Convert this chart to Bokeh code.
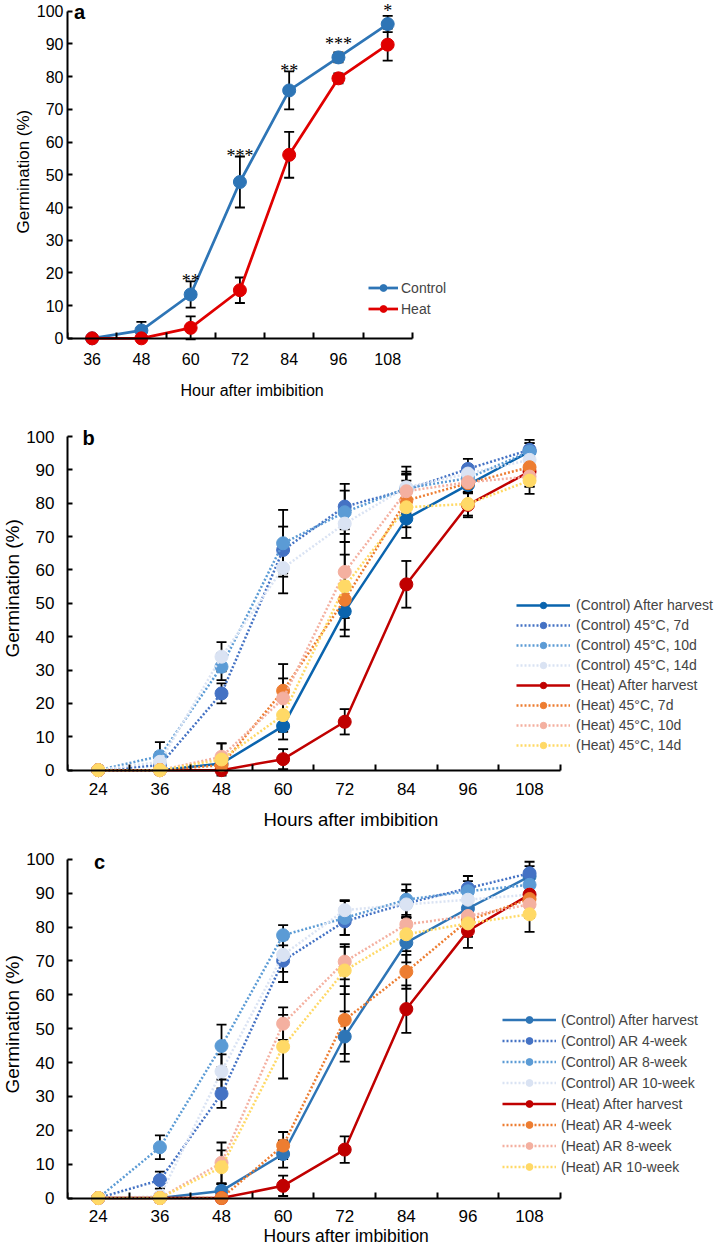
from bokeh.plotting import figure
from bokeh.models import (ColumnDataSource, Whisker, TeeHead, Legend, LegendItem,
                          Label, LabelSet, FixedTicker, Range1d, LinearAxis, Title)
from bokeh.layouts import column
from bokeh.embed import file_html
from bokeh.resources import INLINE

# ---------------- data ----------------
hours_a = [36, 48, 60, 72, 84, 96, 108]
control_a = [0, 2.4, 13.4, 47.8, 75.8, 85.9, 96.1]
control_a_err = [0, 2.6, 4.0, 7.8, 5.8, 1.5, 2.5]
heat_a = [0, 0, 3.2, 14.7, 56.1, 79.5, 89.8]
heat_a_err = [0, 0, 3.5, 3.9, 7.0, 1.5, 4.9]
stars_a = ["", "", "**", "***", "**", "***", "*"]
names_a = ["Control", "Heat"]

hours_bc = [24, 36, 48, 60, 72, 84, 96, 108]

names_b = ["(Control) After harvest", "(Control) 45°C, 7d", "(Control) 45°C, 10d",
           "(Control) 45°C, 14d", "(Heat) After harvest", "(Heat) 45°C, 7d",
           "(Heat) 45°C, 10d", "(Heat) 45°C, 14d"]
b_ctrl_ah = [0, 0, 2.0, 13.2, 47.6, 75.4, 85.5, 95.5]
b_ctrl_7d = [0, 1.5, 23.0, 66.0, 79.0, 84.0, 90.3, 96.0]
b_ctrl_10d = [0, 4.2, 31.0, 68.0, 77.3, 84.5, 87.5, 95.5]
b_ctrl_14d = [0, 2.5, 34.0, 60.6, 73.9, 84.8, 88.9, 93.0]
b_heat_ah = [0, 0, 0, 3.3, 14.5, 55.7, 79.5, 89.5]
b_heat_7d = [0, 0, 1.5, 23.8, 51.1, 80.8, 86.0, 90.8]
b_heat_10d = [0, 0, 4.0, 21.5, 59.4, 83.6, 86.3, 88.0]
b_heat_14d = [0, 0, 3.2, 16.5, 55.1, 78.8, 79.8, 86.8]
b_ctrl_ah_err = [0, 0, 2.6, 4.0, 7.5, 5.8, 2.0, 2.5]
b_ctrl_7d_err = [0, 2.5, 3.0, 7.0, 6.8, 7.0, 3.0, 3.0]
b_ctrl_10d_err = [0, 4.2, 4.0, 10.0, 6.5, 5.0, 2.5, 2.5]
b_ctrl_14d_err = [0, 3.0, 4.4, 7.6, 5.5, 4.0, 2.5, 3.0]
b_heat_ah_err = [0, 0, 0, 3.0, 3.8, 7.0, 3.7, 4.5]
b_heat_7d_err = [0, 0, 2.0, 8.0, 9.0, 6.0, 3.0, 3.0]
b_heat_10d_err = [0, 0, 4.0, 6.0, 9.0, 5.0, 3.0, 3.0]
b_heat_14d_err = [0, 0, 4.8, 5.0, 9.5, 6.0, 3.5, 4.0]

names_c = ["(Control) After harvest", "(Control) AR 4-week", "(Control) AR 8-week",
           "(Control) AR 10-week", "(Heat) After harvest", "(Heat) AR 4-week",
           "(Heat) AR 8-week", "(Heat) AR 10-week"]
c_ctrl_ah = [0, 0, 2.1, 13.0, 47.7, 75.4, 85.5, 95.0]
c_ctrl_4w = [0, 5.3, 30.8, 70.1, 81.7, 87.0, 91.5, 95.9]
c_ctrl_8w = [0, 15.0, 44.9, 77.6, 82.7, 88.1, 90.6, 92.5]
c_ctrl_10w = [0, 0.5, 37.4, 71.8, 85.0, 86.7, 88.1, 89.6]
c_heat_ah = [0, 0, 0, 3.6, 14.3, 55.8, 78.9, 89.6]
c_heat_4w = [0, 0, 0, 15.5, 52.6, 66.8, 82.0, 88.3]
c_heat_8w = [0, 0, 10.4, 51.5, 69.8, 80.8, 83.3, 86.7]
c_heat_10w = [0, 0, 9.1, 44.7, 67.2, 77.9, 81.1, 83.8]
c_ctrl_ah_err = [0, 0, 2.0, 4.0, 7.4, 5.8, 2.5, 3.0]
c_ctrl_4w_err = [0, 2.5, 4.2, 6.3, 4.0, 4.0, 3.6, 3.4]
c_ctrl_8w_err = [0, 3.5, 6.3, 3.0, 5.0, 4.5, 3.0, 3.0]
c_ctrl_10w_err = [0, 0, 5.0, 5.0, 3.0, 4.0, 3.0, 3.0]
c_heat_ah_err = [0, 0, 0, 3.0, 3.9, 7.0, 5.0, 4.0]
c_heat_4w_err = [0, 0, 1.0, 4.0, 10.0, 5.0, 4.0, 4.0]
c_heat_8w_err = [0, 0, 6.0, 4.8, 5.2, 5.0, 4.0, 4.0]
c_heat_10w_err = [0, 0, 5.0, 9.4, 7.0, 5.0, 4.0, 5.2]

# ---------------- styles ----------------
colors_a = ["#2E75B6", "#E00000"]
colors_b = ["#0A64AE", "#4472C4", "#5B9BD5", "#DAE3F3", "#C00000", "#ED7D31", "#F4B0A0", "#FFD966"]
colors_c = ["#2E75B6", "#4472C4", "#5B9BD5", "#DAE3F3", "#C00000", "#ED7D31", "#F4B0A0", "#FFD966"]
dashes = ["solid", "2 2", "2 2", "2 2", "solid", "2 2", "2 2", "2 2"]
SANS = "Liberation Sans, Arial"


def make_fig(x0, x1, y1, fw, fh, bl, bb, hours, tick_size, y_stand, x_stand):
    p = figure(frame_width=fw, frame_height=fh, x_range=Range1d(x0, x1),
               y_range=Range1d(-2.5, y1), x_axis_location=None,
               output_backend="svg", toolbar_location=None,
               min_border_left=bl, min_border_right=0, min_border_top=0, min_border_bottom=bb)
    p.outline_line_color = None
    p.grid.visible = False
    ya = p.yaxis[0]
    ya.bounds = (0, 100)
    ya.ticker = FixedTicker(ticks=list(range(0, 101, 10)))
    ya.axis_line_color = "black"
    ya.axis_line_width = 2
    ya.major_tick_line_color = "black"
    ya.major_tick_line_width = 2
    ya.major_tick_in = 5
    ya.major_tick_out = 0
    ya.minor_tick_in = 0
    ya.minor_tick_out = 0
    ya.major_label_standoff = y_stand
    ya.major_label_text_font = SANS
    ya.major_label_text_font_size = tick_size
    ya.major_label_text_color = "black"
    xlo = hours[0] - 6
    xhi = hours[-1] + 6
    lab_ax = LinearAxis(ticker=FixedTicker(ticks=hours), axis_line_color=None,
                        major_tick_line_color=None, minor_tick_line_color=None,
                        major_tick_in=0, major_tick_out=0, minor_tick_in=0, minor_tick_out=0,
                        major_label_standoff=x_stand, major_label_text_font=SANS,
                        major_label_text_font_size=tick_size, major_label_text_color="black")
    line_ax = LinearAxis(ticker=FixedTicker(ticks=[], minor_ticks=[h - 6 for h in hours] + [xhi]),
                         fixed_location=0, bounds=(xlo, xhi), axis_line_color="black",
                         axis_line_width=2, major_tick_in=0, major_tick_out=0,
                         minor_tick_in=6, minor_tick_out=0, minor_tick_line_color="black",
                         minor_tick_line_width=2, major_label_text_font_size="1px",
                         major_label_standoff=0)
    p.add_layout(lab_ax, "below")
    p.add_layout(line_ax, "below")
    return p


def add_series(p, x, y, err, color, dash, lw, size):
    ex = [xi for xi, e in zip(x, err) if e > 0]
    lo = [yi - e for yi, e in zip(y, err) if e > 0]
    hi = [yi + e for yi, e in zip(y, err) if e > 0]
    esrc = ColumnDataSource(dict(x=ex, lo=lo, hi=hi))
    w = Whisker(source=esrc, base="x", lower="lo", upper="hi", dimension="height",
                line_color="black", line_width=1.8,
                upper_head=TeeHead(size=10, line_color="black", line_width=1.8),
                lower_head=TeeHead(size=10, line_color="black", line_width=1.8),
                level="underlay")
    p.add_layout(w)
    src = ColumnDataSource(dict(x=x, y=y))
    lr = p.line("x", "y", source=src, line_color=color, line_width=lw, line_dash=dash)
    sr = p.scatter("x", "y", source=src, size=size, fill_color=color, line_color=color)
    return lr, sr


def add_titles(p, letter, lx, ly, lbase, xt, xt_off, xt_stand, xsize, yt_off, ysize):
    p.add_layout(Label(x=lx, y=ly, x_units="screen", y_units="screen", text=letter,
                       text_font=SANS, text_font_style="bold", text_font_size="20px",
                       text_align="center", text_baseline=lbase, text_color="black"))
    p.add_layout(Title(text=xt, align="left", offset=xt_off, standoff=xt_stand,
                       vertical_align="middle", text_font=SANS, text_font_size=xsize,
                       text_font_style="normal", text_color="black"), "below")
    p.add_layout(Title(text="Germination (%)", align="left", offset=yt_off, standoff=0,
                       vertical_align="middle", text_font=SANS, text_font_size=ysize,
                       text_font_style="normal", text_color="black"), "left")


def make_legend(names, rends, loc, gw, gh, stand, size):
    return Legend(items=[LegendItem(label=n, renderers=list(r)) for n, r in zip(names, rends)],
                  location=loc, glyph_width=gw, glyph_height=gh, label_height=gh,
                  spacing=4, padding=0, margin=0, label_standoff=stand,
                  border_line_color=None, background_fill_alpha=0,
                  label_text_font=SANS, label_text_font_size=size)


# ---------------- panel a ----------------
pa = make_fig(30, 192.0, 103.3, 665, 346, 52, 70, hours_a, "16px", 4, 6)
ra = [add_series(pa, hours_a, yv, ev, col, "solid", 2.75, 13)
      for yv, ev, col in zip([control_a, heat_a], [control_a_err, heat_a_err], colors_a)]
star_y = [max(c + e, c + 4) for c, e in zip(control_a, control_a_err)]
pa.add_layout(LabelSet(x="x", y="y", text="t",
                       source=ColumnDataSource(dict(x=hours_a, y=star_y, t=stars_a)),
                       text_font=SANS, text_font_size="18px", text_align="center",
                       text_baseline="middle", text_color="black"))
pa.add_layout(make_legend(names_a, ra, (313, 29), 30, 17, 3, "14px"))
add_titles(pa, "a", 12, 346, "top", "Hour after imbibition", 113, 26, "16px", 113, "17px")

# ---------------- panel b ----------------
pb = make_fig(18, 145.0, 106.0, 652, 362, 66, 66, hours_bc, "17px", 13, 4)
series_b = [b_ctrl_ah, b_ctrl_7d, b_ctrl_10d, b_ctrl_14d, b_heat_ah, b_heat_7d, b_heat_10d, b_heat_14d]
errs_b = [b_ctrl_ah_err, b_ctrl_7d_err, b_ctrl_10d_err, b_ctrl_14d_err,
          b_heat_ah_err, b_heat_7d_err, b_heat_10d_err, b_heat_14d_err]
rb = [add_series(pb, hours_bc, s, e, c, d, 2.5, 13)
      for s, e, c, d in zip(series_b, errs_b, colors_b, dashes)]
pb.add_layout(make_legend(names_b, rb, (449, 25), 54, 16, 6, "14px"))
add_titles(pb, "b", 21, 341, "middle", "Hours after imbibition", 196, 21, "18.5px", 121, "19px")

# ---------------- panel c ----------------
pc = make_fig(18, 145.0, 104.4, 652, 362, 66, 44, hours_bc, "17px", 13, 3)
series_c = [c_ctrl_ah, c_ctrl_4w, c_ctrl_8w, c_ctrl_10w, c_heat_ah, c_heat_4w, c_heat_8w, c_heat_10w]
errs_c = [c_ctrl_ah_err, c_ctrl_4w_err, c_ctrl_8w_err, c_ctrl_10w_err,
          c_heat_ah_err, c_heat_4w_err, c_heat_8w_err, c_heat_10w_err]
rc = [add_series(pc, hours_bc, s, e, c, d, 2.5, 13)
      for s, e, c, d in zip(series_c, errs_c, colors_c, dashes)]
pc.add_layout(make_legend(names_c, rc, (435, 31), 54, 17, 5, "14px"))
add_titles(pc, "c", 32, 345, "middle", "Hours after imbibition", 196, 0, "17.5px", 113, "19px")

layout = column(pa, pb, pc)
open("out.html", "w").write(file_html(layout, INLINE))
